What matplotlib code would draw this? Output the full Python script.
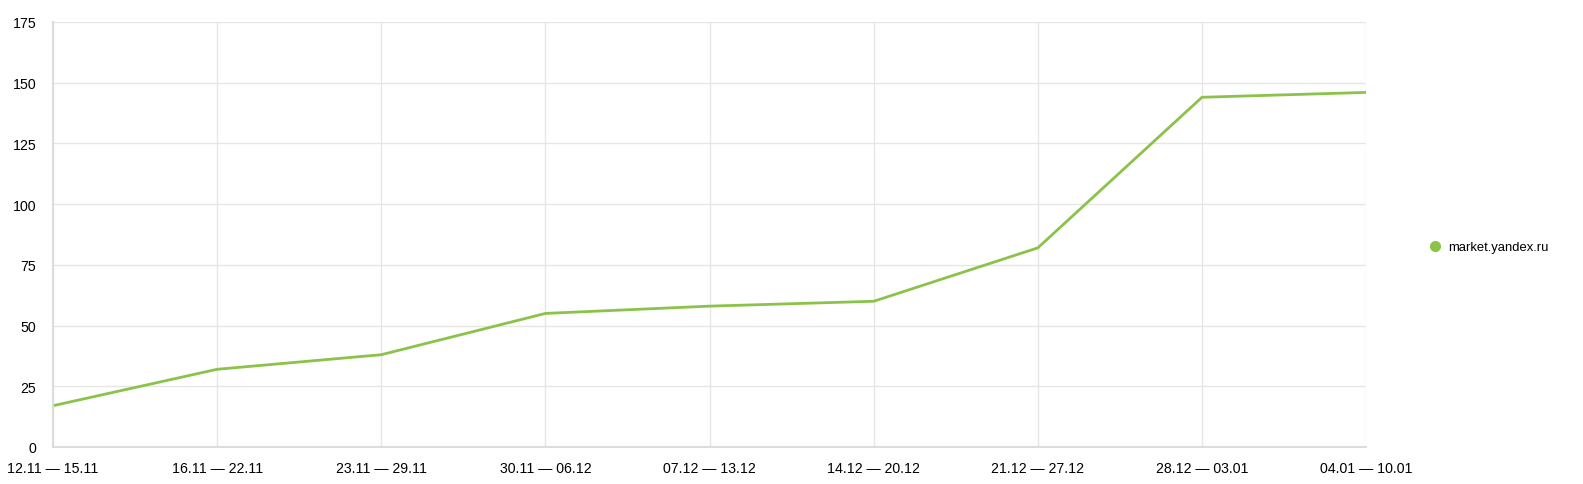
import matplotlib.pyplot as plt
from matplotlib.lines import Line2D

# Data
weeks = ["12.11 — 15.11", "16.11 — 22.11", "23.11 — 29.11", "30.11 — 06.12",
         "07.12 — 13.12", "14.12 — 20.12", "21.12 — 27.12", "28.12 — 03.01",
         "04.01 — 10.01"]
market_yandex = [17, 32, 38, 55, 58, 60, 82, 144, 146]
y_ticks = [0, 25, 50, 75, 100, 125, 150, 175]

plt.rcParams['font.family'] = ['Liberation Sans', 'DejaVu Sans']

fig = plt.figure(figsize=(15.83, 4.85), dpi=100)
ax = fig.add_axes([0.0335, 0.0763, 0.8295, 0.8763])

x = list(range(len(weeks)))
green = '#8bc34a'
ax.plot(x, market_yandex, color=green, linewidth=2, solid_joinstyle='miter')

ax.set_xlim(0, len(weeks) - 1)
ax.set_ylim(0, 175)
ax.set_xticks(x)
ax.set_xticklabels(weeks)
ax.set_yticks(y_ticks)

ax.grid(True, color='#e6e6e6', linewidth=1)
ax.set_axisbelow(True)
for s in ['top', 'right']:
    ax.spines[s].set_visible(False)
for s in ['left', 'bottom']:
    ax.spines[s].set_color('#dcdcdc')
    ax.spines[s].set_linewidth(1.5)

ax.tick_params(axis='both', length=0, labelsize=10.2, colors='black')
ax.tick_params(axis='x', pad=10)
ax.tick_params(axis='y', pad=12)

# legend
handle = Line2D([], [], marker='o', linestyle='none', color=green, markersize=7)
fig.legend([handle], ['market.yandex.ru'], loc='center left',
           bbox_to_anchor=(0.891, 0.488), frameon=False, fontsize=9.4,
           handletextpad=0.0)

fig.savefig('out.png', dpi=100)
